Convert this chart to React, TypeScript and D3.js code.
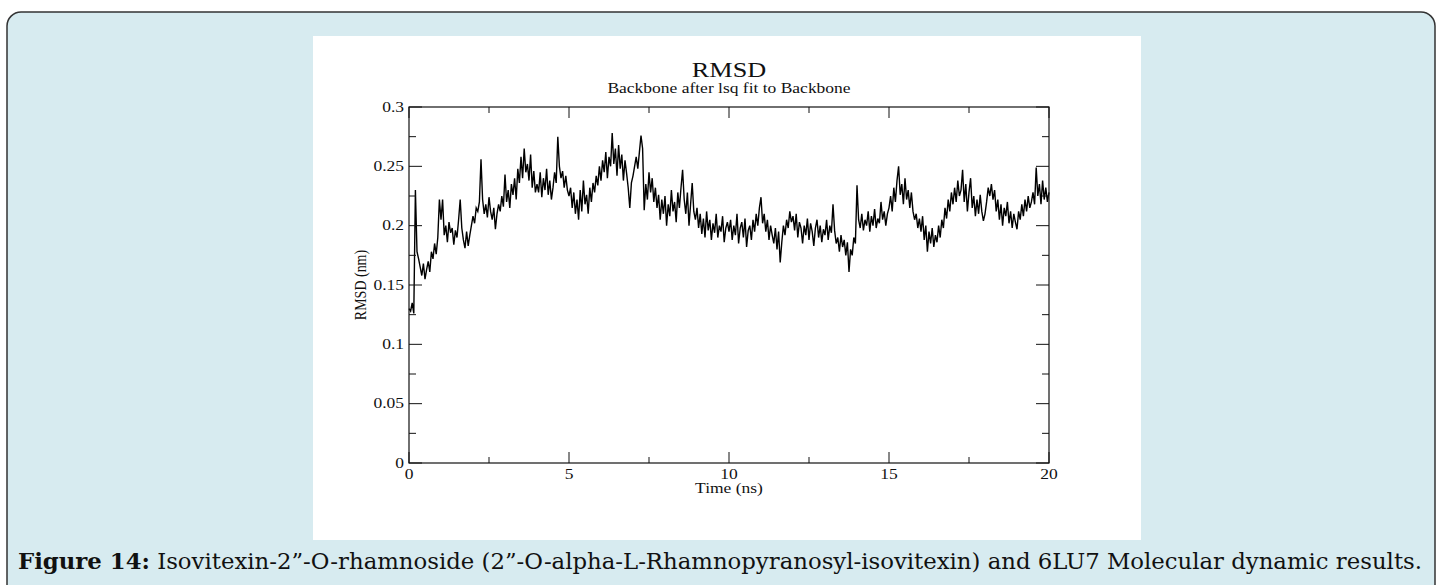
import React from "react";
import * as d3 from "d3";

const TITLE = "RMSD";
const SUBTITLE = "Backbone after lsq fit to Backbone";
const X_LABEL = "Time (ns)";
const Y_LABEL = "RMSD (nm)";
const CAPTION_BOLD = "Figure 14:";
const CAPTION_TEXT = " Isovitexin-2”-O-rhamnoside (2”-O-alpha-L-Rhamnopyranosyl-isovitexin) and 6LU7 Molecular dynamic results.";

const xMajorTicks = [0, 5, 10, 15, 20];
const xMinorTicks = [2.5, 7.5, 12.5, 17.5];
const yMajorTicks = [0, 0.05, 0.1, 0.15, 0.2, 0.25, 0.3];
const yMinorTicks = [0.025, 0.075, 0.125, 0.175, 0.225, 0.275];
const yTickLabels = ["0", "0.05", "0.1", "0.15", "0.2", "0.25", "0.3"];

const TIME_STEP = 0.05; // ns between samples
const rmsd = [
  // 0 - 1 ns
  0.130, 0.128, 0.135, 0.126, 0.230, 0.178, 0.172, 0.165, 0.158, 0.168, 0.155, 0.163, 0.170, 0.161, 0.178, 0.172, 0.185, 0.176, 0.190, 0.222,
  // 1 - 2
  0.205, 0.222, 0.192, 0.200, 0.186, 0.203, 0.194, 0.198, 0.184, 0.196, 0.190, 0.205, 0.222, 0.198, 0.188, 0.181, 0.195, 0.183, 0.192, 0.200,
  // 2 - 3
  0.208, 0.202, 0.215, 0.212, 0.220, 0.256, 0.222, 0.210, 0.218, 0.207, 0.224, 0.212, 0.205, 0.215, 0.197, 0.210, 0.218, 0.212, 0.225, 0.216,
  // 3 - 4
  0.243, 0.220, 0.230, 0.215, 0.235, 0.226, 0.240, 0.222, 0.248, 0.236, 0.258, 0.240, 0.265, 0.245, 0.252, 0.238, 0.260, 0.232, 0.246, 0.228,
  // 4 - 5
  0.235, 0.228, 0.245, 0.224, 0.240, 0.230, 0.248, 0.226, 0.238, 0.222, 0.232, 0.245, 0.236, 0.275, 0.250, 0.240, 0.246, 0.232, 0.242, 0.230,
  // 5 - 6
  0.225, 0.232, 0.215, 0.228, 0.210, 0.222, 0.205, 0.230, 0.212, 0.238, 0.218, 0.226, 0.210, 0.232, 0.220, 0.236, 0.228, 0.242, 0.234, 0.250,
  // 6 - 7
  0.238, 0.255, 0.245, 0.262, 0.240, 0.258, 0.250, 0.278, 0.252, 0.265, 0.242, 0.268, 0.248, 0.260, 0.238, 0.255, 0.244, 0.232, 0.215, 0.236,
  // 7 - 8
  0.242, 0.250, 0.258, 0.248, 0.262, 0.276, 0.265, 0.213, 0.235, 0.222, 0.245, 0.228, 0.240, 0.220, 0.232, 0.215, 0.226, 0.205, 0.222, 0.210,
  // 8 - 9
  0.225, 0.200, 0.218, 0.208, 0.230, 0.212, 0.220, 0.203, 0.228, 0.215, 0.232, 0.247, 0.222, 0.210, 0.228, 0.200, 0.218, 0.236, 0.212, 0.205,
  // 9 - 10
  0.215, 0.198, 0.210, 0.193, 0.206, 0.190, 0.212, 0.196, 0.205, 0.188, 0.202, 0.194, 0.210, 0.190, 0.200, 0.195, 0.208, 0.186, 0.198, 0.203,
  // 10 - 11
  0.195, 0.205, 0.188, 0.200, 0.192, 0.210, 0.185, 0.198, 0.203, 0.190, 0.206, 0.182, 0.196, 0.200, 0.188, 0.205, 0.195, 0.210, 0.200, 0.215,
  // 11 - 12
  0.224, 0.202, 0.210, 0.195, 0.205, 0.188, 0.200, 0.192, 0.185, 0.198, 0.180, 0.195, 0.169, 0.186, 0.200, 0.192, 0.205, 0.198, 0.212, 0.203,
  // 12 - 13
  0.208, 0.196, 0.210, 0.190, 0.203, 0.198, 0.185, 0.200, 0.192, 0.206, 0.188, 0.202, 0.195, 0.183, 0.198, 0.205, 0.190, 0.200, 0.186, 0.197,
  // 13 - 14
  0.192, 0.205, 0.188, 0.200, 0.194, 0.218, 0.196, 0.185, 0.190, 0.178, 0.192, 0.182, 0.188, 0.175, 0.186, 0.161, 0.180, 0.175, 0.190, 0.185,
  // 14 - 15
  0.234, 0.205, 0.198, 0.210, 0.196, 0.205, 0.200, 0.212, 0.195, 0.208, 0.200, 0.214, 0.198, 0.206, 0.202, 0.220, 0.205, 0.212, 0.200, 0.210,
  // 15 - 16
  0.215, 0.225, 0.212, 0.232, 0.220, 0.238, 0.250, 0.226, 0.235, 0.218, 0.240, 0.222, 0.230, 0.215, 0.228, 0.212, 0.205, 0.210, 0.198, 0.206,
  // 16 - 17
  0.195, 0.208, 0.188, 0.200, 0.178, 0.195, 0.185, 0.198, 0.182, 0.192, 0.186, 0.200, 0.190, 0.205, 0.198, 0.215, 0.206, 0.222, 0.212, 0.228,
  // 17 - 18
  0.218, 0.232, 0.220, 0.238, 0.225, 0.230, 0.247, 0.220, 0.235, 0.212, 0.228, 0.240, 0.215, 0.225, 0.208, 0.222, 0.210, 0.226, 0.212, 0.204,
  // 18 - 19
  0.210, 0.220, 0.232, 0.225, 0.235, 0.222, 0.230, 0.212, 0.222, 0.205, 0.218, 0.200, 0.215, 0.208, 0.220, 0.202, 0.212, 0.198, 0.210, 0.203,
  // 19 - 20
  0.197, 0.212, 0.205, 0.218, 0.208, 0.222, 0.212, 0.225, 0.215, 0.220, 0.228, 0.218, 0.249, 0.225, 0.235, 0.218, 0.238, 0.222, 0.232, 0.220,
  0.228,
];

const W = 1440;
const H = 585;
const PLOT = { left: 409, right: 1049, top: 107, bottom: 463 };
const SX = 1.25; // horizontal stretch of the raster chart's text
const FONT = "'Liberation Serif', 'Times New Roman', serif";

function StretchText({ x, y, anchor, size, children, rotate = 0, dy = "0" }: any) {
  return (
    <g transform={`translate(${x},${y}) scale(${SX},1) rotate(${rotate})`}>
      <text textAnchor={anchor} fontSize={size} fontFamily={FONT} fill="#111" dy={dy}>
        {children}
      </text>
    </g>
  );
}

export default function App() {
  const x = d3.scaleLinear().domain([0, 20]).range([PLOT.left, PLOT.right]);
  const y = d3.scaleLinear().domain([0, 0.3]).range([PLOT.bottom, PLOT.top]);
  const line = d3
    .line<number>()
    .x((_, i) => x(i * TIME_STEP))
    .y((d) => y(d));

  const tickStroke = { stroke: "#111", strokeWidth: 1 };
  const yMajorLen = 13, yMinorLen = 7, xMajorLen = 11, xMinorLen = 6;

  return (
    <svg width={W} height={H} style={{ position: "absolute", left: 0, top: 0 }}>
      <rect x={0} y={0} width={W} height={H} fill="#ffffff" />
      <rect x={7} y={12} width={1428} height={620} rx={14} ry={14} fill="#d7ebf0" stroke="#333" strokeWidth={1.5} />
      <rect x={313} y={36} width={828} height={504} fill="#ffffff" />

      {/* titles */}
      <StretchText x={729} y={77} anchor="middle" size={21}>{TITLE}</StretchText>
      <StretchText x={729} y={93} anchor="middle" size={14}>{SUBTITLE}</StretchText>

      {/* data line */}
      <path d={line(rmsd) || ""} fill="none" stroke="#000" strokeWidth={1.4} strokeLinejoin="miter" />

      {/* frame */}
      <rect x={PLOT.left} y={PLOT.top} width={PLOT.right - PLOT.left} height={PLOT.bottom - PLOT.top} fill="none" stroke="#111" strokeWidth={1.2} />

      {/* y ticks */}
      {yMajorTicks.map((v) => (
        <g key={"ym" + v}>
          <line x1={PLOT.left} x2={PLOT.left + yMajorLen} y1={y(v)} y2={y(v)} {...tickStroke} />
          <line x1={PLOT.right} x2={PLOT.right - yMajorLen} y1={y(v)} y2={y(v)} {...tickStroke} />
        </g>
      ))}
      {yMinorTicks.map((v) => (
        <g key={"yn" + v}>
          <line x1={PLOT.left} x2={PLOT.left + yMinorLen} y1={y(v)} y2={y(v)} {...tickStroke} />
          <line x1={PLOT.right} x2={PLOT.right - yMinorLen} y1={y(v)} y2={y(v)} {...tickStroke} />
        </g>
      ))}
      {/* x ticks */}
      {xMajorTicks.map((v) => (
        <g key={"xm" + v}>
          <line x1={x(v)} x2={x(v)} y1={PLOT.bottom} y2={PLOT.bottom - xMajorLen} {...tickStroke} />
          <line x1={x(v)} x2={x(v)} y1={PLOT.top} y2={PLOT.top + xMajorLen} {...tickStroke} />
        </g>
      ))}
      {xMinorTicks.map((v) => (
        <g key={"xn" + v}>
          <line x1={x(v)} x2={x(v)} y1={PLOT.bottom} y2={PLOT.bottom - xMinorLen} {...tickStroke} />
          <line x1={x(v)} x2={x(v)} y1={PLOT.top} y2={PLOT.top + xMinorLen} {...tickStroke} />
        </g>
      ))}

      {/* tick labels */}
      {yMajorTicks.map((v, i) => (
        <StretchText key={"yl" + v} x={PLOT.left - 5} y={y(v)} anchor="end" size={14} dy="0.33em">
          {yTickLabels[i]}
        </StretchText>
      ))}
      {xMajorTicks.map((v) => (
        <StretchText key={"xl" + v} x={x(v)} y={479} anchor="middle" size={14}>
          {String(v)}
        </StretchText>
      ))}

      {/* axis labels */}
      <StretchText x={729} y={493} anchor="middle" size={14}>{X_LABEL}</StretchText>
      <StretchText x={360} y={(PLOT.top + PLOT.bottom) / 2} anchor="middle" size={14} rotate={-90} dy="0.33em">
        {Y_LABEL}
      </StretchText>

      {/* caption */}
      <text x={18} y={569} fontSize={22} fontFamily="'DejaVu Serif Condensed', 'DejaVu Serif', serif" fill="#111" textLength={1404} lengthAdjust="spacingAndGlyphs">
        <tspan fontWeight="bold">{CAPTION_BOLD}</tspan>
        <tspan>{CAPTION_TEXT}</tspan>
      </text>
    </svg>
  );
}
